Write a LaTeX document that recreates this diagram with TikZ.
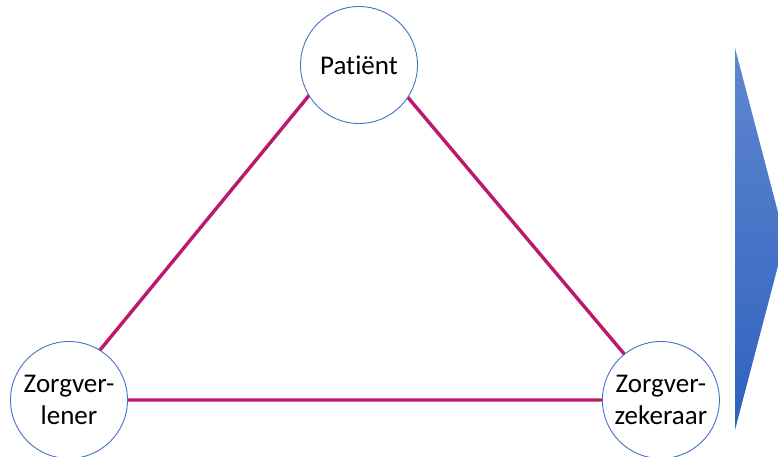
\documentclass[tikz,border=0pt]{standalone}
\usepackage{fontspec}
\setmainfont[Ligatures=NoCommon]{Carlito}
\usetikzlibrary{positioning}
\definecolor{lijnrood}{RGB}{188,24,108}
\definecolor{cirkelblauw}{RGB}{68,114,196}
\definecolor{pijllicht}{RGB}{96,134,208}
\definecolor{pijldonker}{RGB}{46,98,190}
\tikzset{partij/.style={circle, draw=cirkelblauw, fill=white, line width=0.9pt, minimum size=117pt,
    inner sep=0pt, align=center, font=\fontsize{27}{32}\selectfont},
  relatie/.style={draw=lijnrood, line width=3.4pt}}

\begin{document}
\begin{tikzpicture}[x=1pt, y=1pt]
    \useasboundingbox (0,0) rectangle (778,457);
    % driehoek achter de cirkels
    \coordinate (top) at (357,420);
    \coordinate (linksonder) at (59,57);
    \coordinate (rechtsonder) at (663,57);
    \path[relatie] (top) -- (linksonder) -- (rechtsonder) -- cycle;

    \node[partij] (patient) at (359,392) {Patiënt};
    \node[partij] (verlener) at (69,57) {Zorgver-\\lener};
    \node[partij] (verzekeraar) [right=474pt of verlener.east, anchor=west] {Zorgver-\\zekeraar};

    % pijl rechts, valt buiten de rand
    \begin{scope}
      \clip (0,0) rectangle (778,457);
      \shade[top color=pijllicht, bottom color=pijldonker]
        (735,409) -- (785,218) -- (735,27) -- cycle;
    \end{scope}
\end{tikzpicture}
\end{document}
